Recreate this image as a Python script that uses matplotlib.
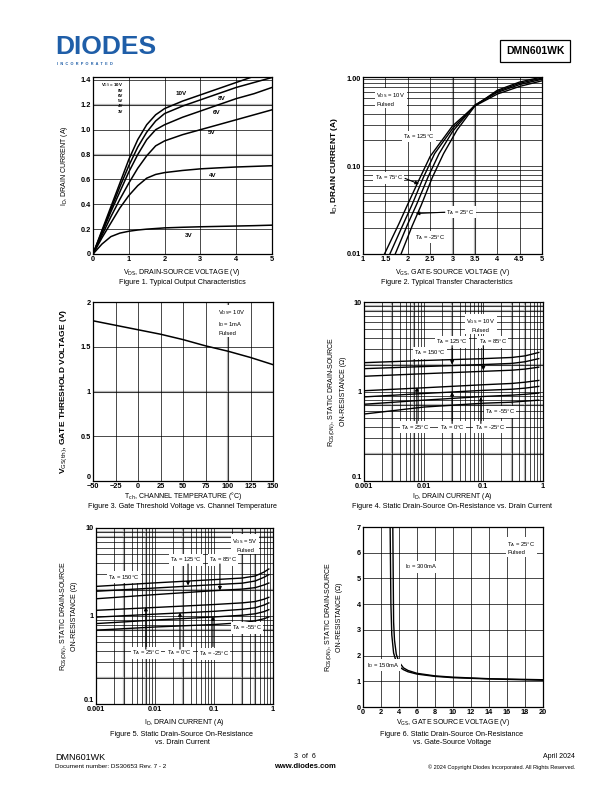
import matplotlib.pyplot as plt
from matplotlib.ticker import NullFormatter, LogLocator

plt.rcParams['font.family'] = ['Liberation Sans', 'DejaVu Sans']

# ---- Figure 1: output characteristics
vds = [0, 0.25, 0.5, 0.75, 1, 1.25, 1.5, 1.75, 2, 2.5, 3, 3.5, 4, 4.5, 5]
id_out = {
    '10V': [0, 0.19, 0.38, 0.57, 0.76, 0.92, 1.04, 1.12, 1.17, 1.23, 1.28, 1.33, 1.38, 1.43, 1.48],
    '8V': [0, 0.18, 0.36, 0.54, 0.71, 0.86, 0.98, 1.07, 1.13, 1.19, 1.24, 1.29, 1.34, 1.38, 1.42],
    '6V': [0, 0.17, 0.34, 0.50, 0.66, 0.80, 0.92, 1.00, 1.04, 1.10, 1.15, 1.20, 1.25, 1.29, 1.34],
    '5V': [0, 0.15, 0.30, 0.44, 0.57, 0.69, 0.79, 0.87, 0.91, 0.96, 1.00, 1.04, 1.08, 1.12, 1.16],
    '4V': [0, 0.13, 0.25, 0.37, 0.47, 0.55, 0.61, 0.64, 0.655, 0.672, 0.685, 0.693, 0.70, 0.705, 0.71],
    '3V': [0, 0.08, 0.14, 0.168, 0.183, 0.193, 0.20, 0.205, 0.21, 0.215, 0.219, 0.222, 0.225, 0.228, 0.232],
}
out_label_pos = {'10V': (2.46, 1.29), '8V': (3.6, 1.255), '6V': (3.44, 1.14),
                 '5V': (3.32, 0.98), '4V': (3.35, 0.63), '3V': (2.68, 0.145)}

# ---- Figure 2: transfer characteristics
vgs_tr = {
    '125': [1.48, 1.8, 2.0, 2.25, 2.5, 3.0, 3.5, 4.0, 4.5, 5.0],
    '75': [1.60, 1.9, 2.1, 2.35, 2.6, 3.0, 3.5, 4.0, 4.5, 5.0],
    '25': [1.72, 2.0, 2.2, 2.45, 2.7, 3.0, 3.5, 4.0, 4.5, 5.0],
    '-25': [1.85, 2.1, 2.3, 2.55, 2.8, 3.1, 3.5, 4.0, 4.5, 5.0],
}
id_tr = {
    '125': [0.01, 0.022, 0.037, 0.07, 0.13, 0.29, 0.49, 0.67, 0.82, 0.95],
    '75': [0.01, 0.022, 0.037, 0.075, 0.14, 0.27, 0.50, 0.70, 0.86, 0.99],
    '25': [0.01, 0.022, 0.037, 0.075, 0.14, 0.25, 0.50, 0.72, 0.89, 1.02],
    '-25': [0.01, 0.021, 0.036, 0.075, 0.14, 0.26, 0.49, 0.74, 0.92, 1.05],
}

# ---- Figure 3: gate threshold voltage
tch = [-50, -25, 0, 25, 50, 75, 100, 125, 150]
vth = [1.79, 1.74, 1.69, 1.64, 1.58, 1.51, 1.45, 1.38, 1.30]

# ---- Figure 4: Rds(on) vs Id, VGS = 10V
id4 = [0.001, 0.01, 0.1, 0.3, 0.5, 0.85]
rds4 = {
    '150': [2.10, 2.22, 2.33, 2.40, 2.50, 2.73],
    '125': [1.80, 1.90, 2.00, 2.06, 2.15, 2.33],
    '85': [1.48, 1.58, 1.68, 1.73, 1.78, 1.87],
    '25': [1.02, 1.10, 1.19, 1.23, 1.27, 1.33],
    '0': [0.87, 0.95, 1.03, 1.06, 1.09, 1.14],
    '-25': [0.72, 0.80, 0.88, 0.91, 0.93, 0.96],
    '-55': [0.56, 0.67, 0.74, 0.76, 0.78, 0.80],
}

# ---- Figure 5: Rds(on) vs Id, VGS = 5V
id5 = [0.001, 0.01, 0.1, 0.3, 0.5, 0.7, 0.85]
rds5 = {
    '150': [2.17, 2.38, 2.59, 2.70, 2.85, 3.15, 3.42],
    '125': [1.91, 2.08, 2.27, 2.36, 2.50, 2.75, 2.95],
    '85': [1.57, 1.75, 1.94, 2.02, 2.10, 2.25, 2.37],
    '25': [1.16, 1.25, 1.35, 1.41, 1.46, 1.55, 1.63],
    '0': [0.97, 1.05, 1.13, 1.19, 1.24, 1.33, 1.41],
    '-25': [0.82, 0.90, 0.975, 1.02, 1.06, 1.12, 1.18],
    '-55': [0.69, 0.75, 0.80, 0.84, 0.88, 0.93, 0.975],
}

# ---- Figure 6: Rds(on) vs Vgs
vgs6_150 = [3.0, 3.1, 3.2, 3.4, 3.7, 4.0, 4.5, 5, 6, 8, 10, 14, 20]
rds6_150 = [7.5, 4.0, 2.8, 2.1, 1.75, 1.57, 1.45, 1.37, 1.28, 1.19, 1.14, 1.09, 1.04]
vgs6_300 = [3.3, 3.4, 3.5, 3.7, 4.0, 4.5, 5, 6, 8, 10, 14, 20]
rds6_300 = [7.5, 3.3, 2.6, 2.05, 1.75, 1.52, 1.42, 1.31, 1.21, 1.16, 1.10, 1.06]

GRAY = '#b4b4b4'
TICK_FS = 5.3
LAB_FS = 5
BOX = dict(facecolor='white', edgecolor='none', pad=1.0)

fig = plt.figure(figsize=(6.12, 7.92), dpi=100)


def place(l, t, r, b):
    ax = fig.add_axes([l / 612, 1 - b / 792, (r - l) / 612, (b - t) / 792])
    ax.tick_params(which='both', length=0, labelsize=TICK_FS, pad=1.5)
    for s in ax.spines.values():
        s.set_linewidth(0.9)
    return ax


def bold_ticks(ax, lift_bottom=False):
    for lab in ax.get_xticklabels() + ax.get_yticklabels():
        lab.set_fontweight('bold')
    if lift_bottom:
        # lowest y label sits a little above the corner, as in the datasheet
        ax.get_yticklabels()[0].set_verticalalignment('bottom')


def page_text(x, y, s, **kw):
    # x, y in page pixels from the top-left corner
    fig.text(x / 612, 1 - y / 792, s, **kw)


def log_grid(ax, axis):
    target = ax.xaxis if axis == 'x' else ax.yaxis
    target.set_minor_locator(LogLocator(base=10, subs=range(2, 10)))
    target.set_minor_formatter(NullFormatter())


def tlabel(ax, x, y, txt, **kw):
    ax.text(x, y, txt, fontsize=4.2, ha='center', va='center', bbox=BOX, zorder=5, **kw)


def arrow(ax, tail, tip):
    ax.annotate('', xy=tip, xytext=tail, zorder=6,
                arrowprops=dict(arrowstyle='-|>', color='black', lw=0.8, mutation_scale=5,
                                shrinkA=0, shrinkB=0))


# ================= Figure 1
ax1 = place(93, 77, 272, 254)
for k, v in id_out.items():
    ax1.plot(vds, v, color='black', lw=1.1)
    ax1.text(*out_label_pos[k], k, fontsize=4.5, ha='center', va='center', fontweight='bold')
ax1.set_xlim(0, 5)
ax1.set_ylim(0, 1.424)
ax1.set_xticks(range(0, 6))
ax1.set_yticks([0, 0.2, 0.4, 0.6, 0.8, 1.0, 1.2, 1.4])
ax1.set_yticklabels(['0', '0.2', '0.4', '0.6', '0.8', '1.0', '1.2', '1.4'])
ax1.grid(True, color='black', lw=0.5)
for y in [0.8, 1.2]:
    ax1.axhline(y, color=GRAY, lw=1.6, zorder=1.5)
ax1.text(0.84, 1.355, r'V$_{\mathrm{GS}}$ = 10V', fontsize=3.2, ha='right', va='center', fontweight='bold')
for i, s in enumerate(['8V', '6V', '5V', '4V', '3V']):
    ax1.text(0.84, 1.313 - i * 0.042, s, fontsize=3.2, ha='right', va='center', fontweight='bold')
ax1.set_ylabel(r'I$_{\mathrm{D}}$, DRAIN CURRENT (A)', fontsize=LAB_FS)
ax1.yaxis.set_label_coords(-0.128, 0.5)
bold_ticks(ax1)
page_text(182, 272, r'V$_{\mathrm{DS}}$, DRAIN-SOURCE VOLTAGE (V)', fontsize=LAB_FS, ha='center', va='center')

# ================= Figure 2
ax2 = place(363, 77, 542, 254)
for k in vgs_tr:
    ax2.plot(vgs_tr[k], id_tr[k], color='black', lw=1.0)
ax2.set_yscale('log')
ax2.set_xlim(1, 5)
ax2.set_ylim(0.01, 1.05)
ax2.set_xticks([1, 1.5, 2, 2.5, 3, 3.5, 4, 4.5, 5])
ax2.set_xticklabels(['1', '1.5', '2', '2.5', '3', '3.5', '4', '4.5', '5'])
ax2.set_yticks([0.01, 0.1, 1.0])
ax2.set_yticklabels(['0.01', '0.10', '1.00'])
log_grid(ax2, 'y')
ax2.grid(True, which='both', color='black', lw=0.5)
for x in [3, 3.5]:
    ax2.axvline(x, color=GRAY, lw=1.6, zorder=1.5)
ax2.text(1.3, 0.59, 'V$_{\\mathrm{DS}}$ = 10V\nPulsed', fontsize=4.2, ha='left', va='center',
         bbox=BOX, zorder=5, linespacing=1.4)
tlabel(ax2, 2.25, 0.22, r'T$_{\mathrm{A}}$ = 125°C')
tlabel(ax2, 1.58, 0.074, r'T$_{\mathrm{A}}$ = 75°C')
arrow(ax2, (1.94, 0.073), (2.25, 0.063))
tlabel(ax2, 3.17, 0.030, r'T$_{\mathrm{A}}$ = 25°C')
arrow(ax2, (2.83, 0.030), (2.18, 0.029))
tlabel(ax2, 2.5, 0.0156, r'T$_{\mathrm{A}}$ = -25°C')
ax2.set_ylabel(r'I$_{\mathrm{D}}$, DRAIN CURRENT (A)', fontsize=6, fontweight='bold')
ax2.yaxis.set_label_coords(-0.128, 0.5)
bold_ticks(ax2)
page_text(452, 272, r'V$_{\mathrm{GS}}$, GATE-SOURCE VOLTAGE (V)', fontsize=LAB_FS, ha='center', va='center')

# ================= Figure 3
ax3 = place(93, 302, 273, 481)
ax3.plot(tch, vth, color='black', lw=1.1)
ax3.set_xlim(-50, 150)
ax3.set_ylim(0, 2)
ax3.set_xticks(range(-50, 151, 25))
ax3.set_yticks([0, 0.5, 1, 1.5, 2])
ax3.set_yticklabels(['0', '0.5', '1', '1.5', '2'])
ax3.grid(True, color='black', lw=0.5)
ax3.axvline(100, color=GRAY, lw=1.6, zorder=1.5)
ax3.axhline(1, color=GRAY, lw=1.6, zorder=1.5)
ax3.text(89, 1.93, 'V$_{\\mathrm{DS}}$= 10V\nI$_{\\mathrm{D}}$= 1mA\nPulsed', fontsize=4.2,
         ha='left', va='top', bbox=BOX, zorder=5, linespacing=1.5)
ax3.set_ylabel(r'V$_{\mathrm{GS(th)}}$, GATE THRESHOLD VOLTAGE (V)', fontsize=6, fontweight='bold')
ax3.yaxis.set_label_coords(-0.128, 0.5)
bold_ticks(ax3, lift_bottom=True)
page_text(183, 496, r'T$_{\mathrm{ch}}$, CHANNEL TEMPERATURE (°C)', fontsize=LAB_FS,
          ha='center', va='center')


def rds_axes(ax, xs, curves):
    for k, v in curves.items():
        ax.plot(xs, v, color='black', lw=1.0, zorder=3)
    ax.set_xscale('log')
    ax.set_yscale('log')
    ax.set_xlim(0.001, 1)
    ax.set_ylim(0.1, 10)
    ax.set_xticks([0.001, 0.01, 0.1, 1])
    ax.set_xticklabels(['0.001', '0.01', '0.1', '1'])
    ax.set_yticks([0.1, 1, 10])
    ax.set_yticklabels(['0.1', '1', '10'])
    log_grid(ax, 'x')
    log_grid(ax, 'y')
    ax.grid(True, which='both', color='black', lw=0.5)
    for x in [0.003, 0.007, 0.03, 0.3, 0.5]:
        ax.axvline(x, color=GRAY, lw=1.6, zorder=1.5)
    for y in [0.2, 0.7, 2, 8, 9]:
        ax.axhline(y, color=GRAY, lw=1.6, zorder=1.5)
    ax.set_ylabel('R$_{\\mathrm{DS(ON)}}$, STATIC DRAIN-SOURCE\nON-RESISTANCE (Ω)',
                  fontsize=LAB_FS, linespacing=1.5)
    bold_ticks(ax, lift_bottom=True)


# ================= Figure 4
ax4 = place(364, 302, 543, 481)
rds_axes(ax4, id4, rds4)
ax4.yaxis.set_label_coords(-0.095, 0.5)
ax4.text(0.09, 5.5, 'V$_{\\mathrm{GS}}$ = 10V\nPulsed', fontsize=4.2, ha='center', va='center',
         bbox=BOX, zorder=5, linespacing=1.4)
tlabel(ax4, 0.030, 3.57, r'T$_{\mathrm{A}}$ = 125°C')
arrow(ax4, (0.030, 3.25), (0.030, 2.0))
tlabel(ax4, 0.145, 3.57, r'T$_{\mathrm{A}}$ = 85°C')
arrow(ax4, (0.1, 3.25), (0.1, 1.72))
tlabel(ax4, 0.0128, 2.69, r'T$_{\mathrm{A}}$ = 150°C')
tlabel(ax4, 0.00716, 0.40, r'T$_{\mathrm{A}}$ = 25°C')
arrow(ax4, (0.0077, 0.44), (0.0077, 1.12))
tlabel(ax4, 0.030, 0.40, r'T$_{\mathrm{A}}$ = 0°C')
arrow(ax4, (0.030, 0.44), (0.030, 0.99))
tlabel(ax4, 0.129, 0.40, r'T$_{\mathrm{A}}$ = -25°C')
arrow(ax4, (0.091, 0.44), (0.091, 0.87))
tlabel(ax4, 0.19, 0.59, r'T$_{\mathrm{A}}$ = -55°C')
page_text(452, 496, r'I$_{\mathrm{D}}$, DRAIN CURRENT (A)', fontsize=LAB_FS, ha='center', va='center')

# ================= Figure 5
ax5 = place(96, 528, 273, 704)
rds_axes(ax5, id5, rds5)
ax5.yaxis.set_label_coords(-0.10, 0.5)
ax5.text(0.335, 6.4, 'V$_{\\mathrm{GS}}$ = 5V\nPulsed', fontsize=4.2, ha='center', va='center',
         bbox=BOX, zorder=5, linespacing=1.4)
tlabel(ax5, 0.0335, 4.33, r'T$_{\mathrm{A}}$ = 125°C')
arrow(ax5, (0.0363, 3.9), (0.0363, 2.22))
tlabel(ax5, 0.142, 4.33, r'T$_{\mathrm{A}}$ = 85°C')
arrow(ax5, (0.126, 3.9), (0.126, 1.95))
tlabel(ax5, 0.003, 2.77, r'T$_{\mathrm{A}}$ = 150°C')
tlabel(ax5, 0.00703, 0.38, r'T$_{\mathrm{A}}$ = 25°C')
arrow(ax5, (0.007, 0.42), (0.007, 1.27))
tlabel(ax5, 0.0255, 0.38, r'T$_{\mathrm{A}}$ = 0°C')
arrow(ax5, (0.0265, 0.42), (0.0265, 1.1))
tlabel(ax5, 0.1, 0.37, r'T$_{\mathrm{A}}$ = -25°C')
arrow(ax5, (0.096, 0.45), (0.096, 0.99))
tlabel(ax5, 0.363, 0.73, r'T$_{\mathrm{A}}$ = -55°C')
page_text(184, 722, r'I$_{\mathrm{D}}$, DRAIN CURRENT (A)', fontsize=LAB_FS, ha='center', va='center')

# ================= Figure 6
ax6 = place(363, 527, 543, 707)
ax6.plot(vgs6_150, rds6_150, color='black', lw=1.0)
ax6.plot(vgs6_300, rds6_300, color='black', lw=1.0)
ax6.set_xlim(0, 20)
ax6.set_ylim(0, 7)
ax6.set_xticks(range(0, 21, 2))
ax6.set_yticks(range(0, 8))
ax6.grid(True, color='black', lw=0.5)
ax6.text(16.0, 6.5, 'T$_{\\mathrm{A}}$ = 25°C\nPulsed', fontsize=4.2, ha='left', va='top',
         bbox=BOX, zorder=5, linespacing=1.4)
ax6.text(4.67, 5.45, r'I$_{\mathrm{D}}$ = 300mA', fontsize=4.2, ha='left', va='center', bbox=BOX, zorder=5)
ax6.text(0.44, 1.63, r'I$_{\mathrm{D}}$ = 150mA', fontsize=4.2, ha='left', va='center', bbox=BOX, zorder=5)
ax6.set_ylabel('R$_{\\mathrm{DS(ON)}}$, STATIC DRAIN-SOURCE\nON-RESISTANCE (Ω)',
               fontsize=LAB_FS, linespacing=1.5)
ax6.yaxis.set_label_coords(-0.111, 0.5)
bold_ticks(ax6)
page_text(453, 723, r'V$_{\mathrm{GS}}$, GATE SOURCE VOLTAGE (V)', fontsize=LAB_FS, ha='center', va='center')

# ---- captions
cap = dict(fontsize=5.2, ha='center', va='center')
page_text(182, 283, 'Figure 1. Typical Output Characteristics', **cap)
page_text(447, 283, 'Figure 2. Typical Transfer Characteristics', **cap)
page_text(182, 507, 'Figure 3. Gate Threshold Voltage vs. Channel Temperature', **cap)
page_text(452, 507, 'Figure 4. Static Drain-Source On-Resistance vs. Drain Current', **cap)
page_text(182, 734, 'Figure 5. Static Drain-Source On-Resistance', **cap)
page_text(182, 743, 'vs. Drain Current', **cap)
page_text(452, 734, 'Figure 6. Static Drain-Source On-Resistance', **cap)
page_text(452, 743, 'vs. Gate-Source Voltage', **cap)

# ---- header
page_text(55, 47, 'DIODES', fontsize=19, fontweight='heavy', color='#1f5ea8', ha='left', va='center')
page_text(57, 64, 'I  N  C  O  R  P  O  R  A  T  E  D', fontsize=2.8, color='#1f5ea8',
          ha='left', va='center', fontweight='bold')
page_text(535, 51, 'DMN601WK', fontsize=7.5, fontweight='bold', ha='center', va='center',
          bbox=dict(facecolor='white', edgecolor='black', lw=0.9, boxstyle='square,pad=0.55'))

# ---- footer
page_text(55, 757, 'DMN601WK', fontsize=6.5, ha='left', va='center')
page_text(55, 767, 'Document number: DS30653 Rev. 7 - 2', fontsize=4.6, ha='left', va='center')
page_text(305, 757, '3  of  6', fontsize=5, ha='center', va='center')
page_text(305, 767, 'www.diodes.com', fontsize=5.5, fontweight='bold', ha='center', va='center')
page_text(575, 757, 'April 2024', fontsize=5, ha='right', va='center')
page_text(575, 767, '© 2024 Copyright Diodes Incorporated. All Rights Reserved.', fontsize=4,
          ha='right', va='center')

fig.savefig('out.png', dpi=100)
